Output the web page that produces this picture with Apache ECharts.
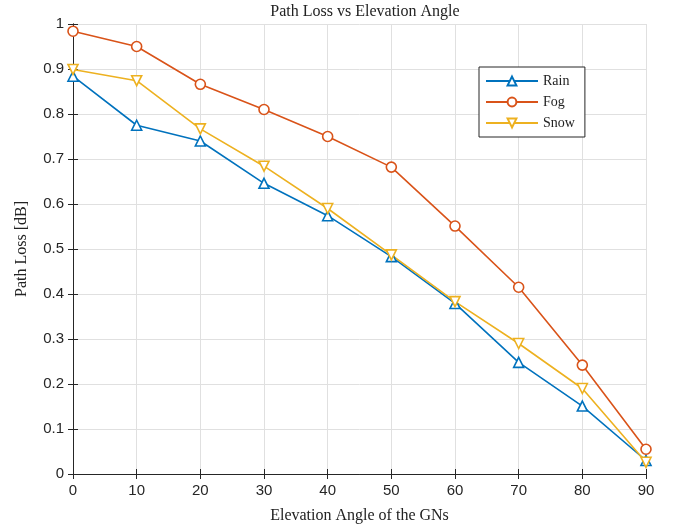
<!DOCTYPE html>
<html><head><meta charset="utf-8">
<script src="https://cdn.jsdelivr.net/npm/echarts@6/dist/echarts.min.js"></script>
<style>html,body{margin:0;padding:0;background:#fff}#c{width:684px;height:531px}</style>
</head><body><div id="c"></div>
<script>
const angles = [0, 10, 20, 30, 40, 50, 60, 70, 80, 90];
const rain = [0.884, 0.775, 0.740, 0.646, 0.574, 0.483, 0.379, 0.248, 0.151, 0.030];
const fog  = [0.984, 0.950, 0.866, 0.810, 0.750, 0.682, 0.551, 0.415, 0.242, 0.055];
const snow = [0.899, 0.874, 0.767, 0.684, 0.590, 0.487, 0.383, 0.290, 0.190, 0.026];
const seriesNames = ['Rain', 'Fog', 'Snow'];
const colors = ['#0072BD', '#D95319', '#EDB120'];

const chart = echarts.init(document.getElementById('c'));
const serif = '"Liberation Serif", "DejaVu Serif", serif';
const sans = '"Liberation Sans", Arial, sans-serif';
const axisLineStyle = {show: true, lineStyle: {color: '#262626', width: 1}};
function mk(name, data, color, symbol, rot) {
  return {
    name, type: 'line', data: angles.map((a, i) => [a, data[i]]),
    color, symbol, symbolSize: 10, symbolRotate: rot,
    lineStyle: {color, width: 1.6},
    itemStyle: {color: '#ffffff', borderColor: color, borderWidth: 1.6},
    showAllSymbol: true, z: 3
  };
}
chart.setOption({
  animation: false,
  backgroundColor: '#ffffff',
  title: {text: 'Path Loss vs Elevation Angle', left: 360, top: -1, textAlign: 'center',
    textStyle: {fontFamily: serif, fontSize: 16, fontWeight: 'normal', color: '#222'}},
  grid: {left: 73, right: 38, top: 24, bottom: 57},
  legend: {
    data: seriesNames, orient: 'vertical', left: 479, top: 67,
    backgroundColor: '#fff', borderColor: '#262626', borderWidth: 1,
    padding: [7, 10, 7, 6], itemGap: 7, itemWidth: 52, itemHeight: 11,
    textStyle: {fontFamily: serif, fontSize: 14, color: '#222'}
  },
  xAxis: [{
    type: 'value', min: 0, max: 90, interval: 10,
    name: 'Elevation Angle of the GNs', nameLocation: 'middle', nameGap: 34,
    nameTextStyle: {fontFamily: serif, fontSize: 16, color: '#222'},
    axisLine: axisLineStyle,
    axisTick: {inside: true, length: 5, lineStyle: {color: '#262626'}},
    axisLabel: {fontFamily: sans, fontSize: 15, color: '#262626', margin: 9},
    splitLine: {show: true, lineStyle: {color: '#e0e0e0', width: 1}}
  }, {
    type: 'value', min: 0, max: 90, interval: 10, position: 'top',
    axisLine: axisLineStyle,
    axisTick: {inside: true, length: 5, lineStyle: {color: '#262626'}},
    axisLabel: {show: false}, splitLine: {show: false}
  }],
  yAxis: [{
    type: 'value', min: 0, max: 1, interval: 0.1,
    name: 'Path Loss [dB]', nameLocation: 'middle', nameGap: 43,
    nameTextStyle: {fontFamily: serif, fontSize: 16, color: '#222'},
    axisLine: axisLineStyle,
    axisTick: {inside: true, length: 5, lineStyle: {color: '#262626'}},
    axisLabel: {fontFamily: sans, fontSize: 15, color: '#262626', margin: 9,
      formatter: v => (v === 0 || v === 1) ? String(v) : v.toFixed(1)},
    splitLine: {show: true, lineStyle: {color: '#e0e0e0', width: 1}}
  }, {
    type: 'value', min: 0, max: 1, interval: 0.1, position: 'right',
    axisLine: axisLineStyle,
    axisTick: {inside: true, length: 5, lineStyle: {color: '#262626'}},
    axisLabel: {show: false}, splitLine: {show: false}
  }],
  series: [
    mk('Rain', rain, colors[0], 'triangle', 0),
    mk('Fog', fog, colors[1], 'circle', 0),
    mk('Snow', snow, colors[2], 'triangle', 180)
  ]
});
</script></body></html>
